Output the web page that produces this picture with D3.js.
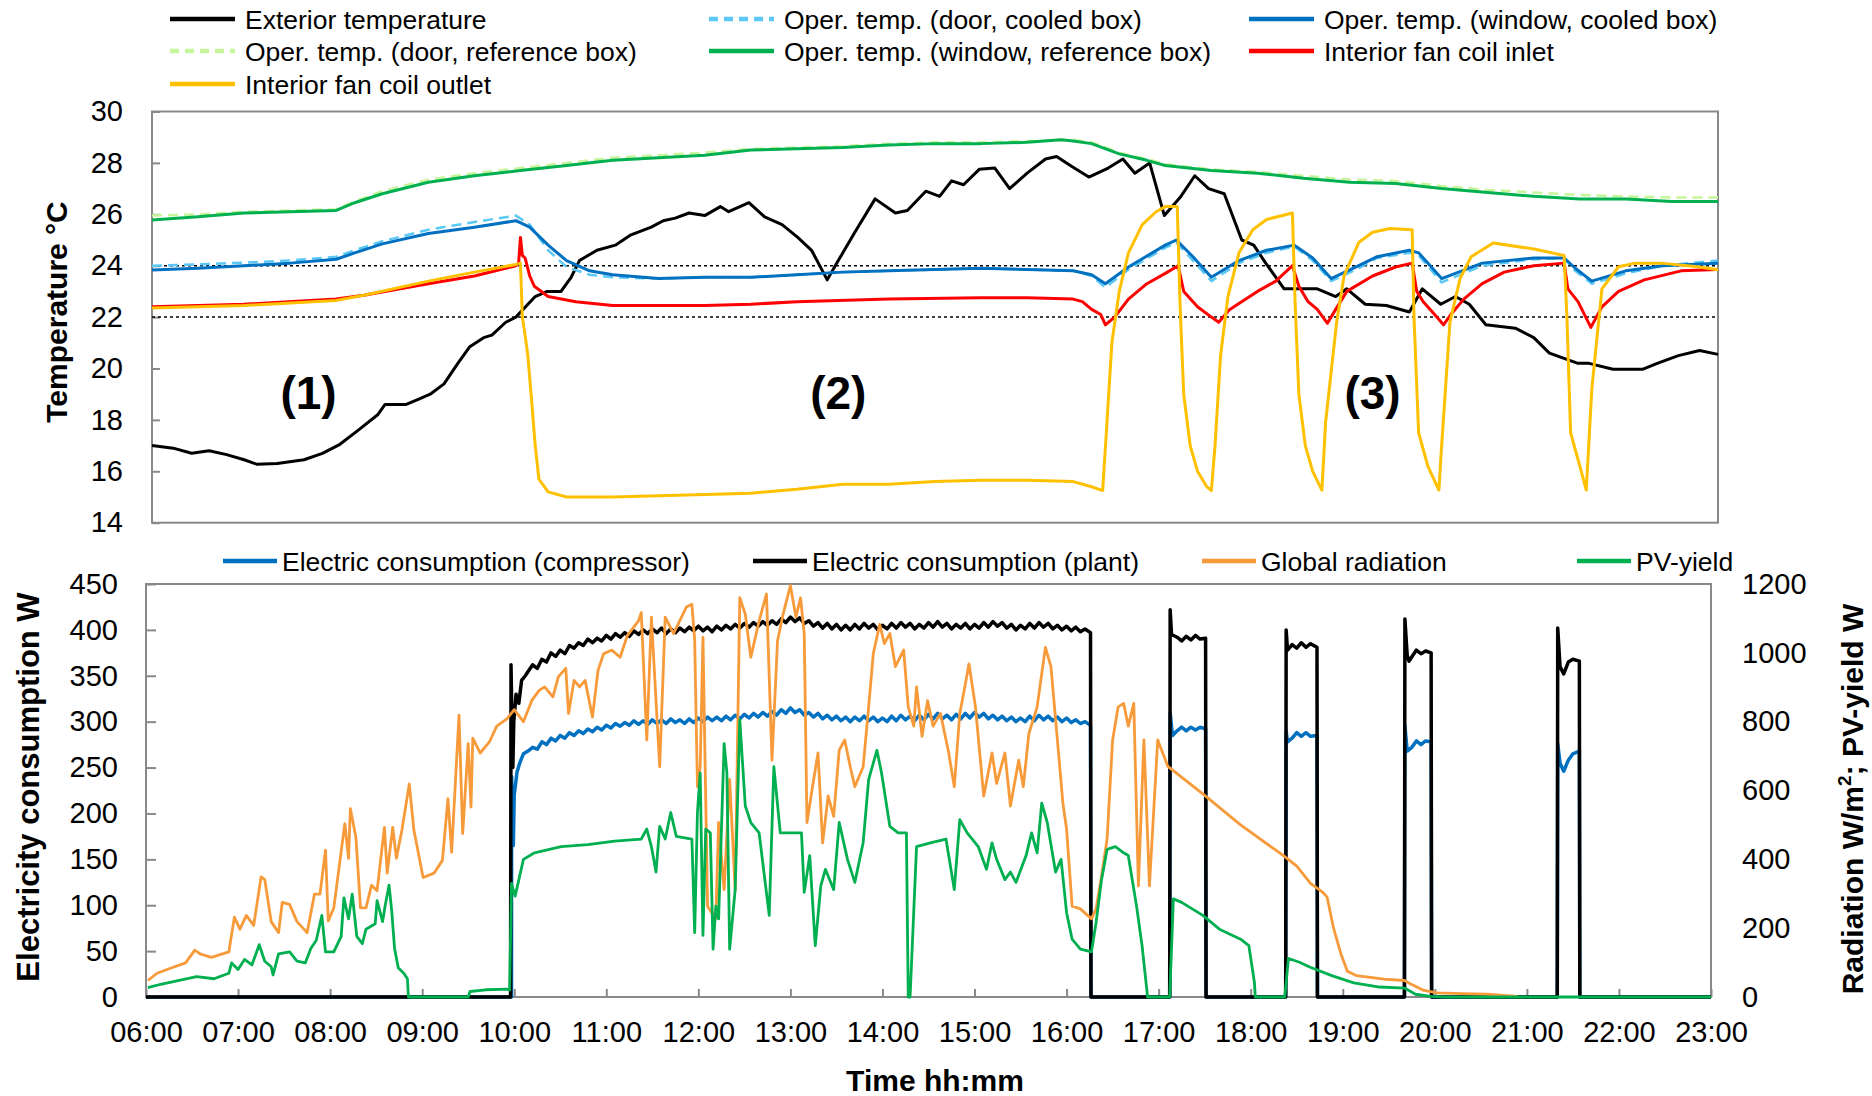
<!DOCTYPE html>
<html><head><meta charset="utf-8">
<script src="https://cdn.jsdelivr.net/npm/d3@7"></script>
<style>body{margin:0;background:#fff} svg{display:block} text{font-family:"Liberation Sans",Arial,sans-serif;fill:#000}</style>
</head><body><svg id="c" width="1872" height="1096"></svg>
<script>
// ---------- labels & ticks ----------
const hourLabels = ["06:00","07:00","08:00","09:00","10:00","11:00","12:00","13:00","14:00","15:00","16:00","17:00","18:00","19:00","20:00","21:00","22:00","23:00"];
const tempTicks = [14,16,18,20,22,24,26,28,30];
const powerTicks = [0,50,100,150,200,250,300,350,400,450];
const radTicks = [0,200,400,600,800,1000,1200];
const comfortLimits = [22,24];
const phaseLabels = [{t:7.7,label:"(1)"},{t:13.45,label:"(2)"},{t:19.25,label:"(3)"}];

// ---------- temperature series [hour, °C] ----------
const exteriorTemp = [[6.0,17.0],[6.23,16.9],[6.43,16.7],[6.62,16.8],[6.81,16.65],[7.0,16.45],[7.14,16.27],[7.36,16.3],[7.65,16.45],[7.85,16.7],[8.04,17.05],[8.24,17.6],[8.45,18.2],[8.53,18.6],[8.76,18.6],[8.89,18.8],[9.02,19.0],[9.17,19.4],[9.32,20.2],[9.45,20.85],[9.6,21.2],[9.69,21.3],[9.84,21.8],[9.95,22.0],[10.16,22.8],[10.29,23.0],[10.44,23.0],[10.55,23.55],[10.64,24.2],[10.83,24.6],[11.03,24.8],[11.2,25.2],[11.42,25.5],[11.55,25.75],[11.68,25.85],[11.83,26.05],[12.0,25.95],[12.17,26.3],[12.26,26.1],[12.48,26.45],[12.65,25.9],[12.84,25.6],[13.01,25.1],[13.16,24.6],[13.33,23.45],[13.45,24.2],[13.63,25.3],[13.85,26.6],[14.07,26.05],[14.2,26.15],[14.4,26.9],[14.55,26.7],[14.68,27.3],[14.81,27.15],[14.98,27.75],[15.15,27.8],[15.31,27.0],[15.5,27.6],[15.7,28.15],[15.82,28.25],[15.99,27.85],[16.17,27.45],[16.38,27.8],[16.54,28.15],[16.67,27.6],[16.83,28.0],[16.99,25.95],[17.16,26.65],[17.32,27.5],[17.47,27.0],[17.64,26.8],[17.83,25.0],[17.96,24.8],[18.09,24.1],[18.29,23.1],[18.48,23.1],[18.65,23.1],[18.85,22.8],[18.97,23.1],[19.17,22.5],[19.4,22.45],[19.65,22.2],[19.79,23.1],[19.99,22.5],[20.15,22.8],[20.3,22.5],[20.48,21.7],[20.8,21.57],[21.0,21.2],[21.17,20.6],[21.48,20.2],[21.6,20.2],[21.86,19.97],[22.18,19.97],[22.34,20.2],[22.57,20.5],[22.8,20.7],[23.0,20.55]];
const opDoorCooled = [[6.0,24.0],[6.5,24.05],[7.0,24.12],[7.5,24.2],[8.0,24.35],[8.2,24.6],[8.5,24.95],[9.0,25.4],[9.5,25.7],[9.95,25.95],[10.1,25.6],[10.3,24.6],[10.5,23.95],[10.75,23.65],[11.0,23.55],[11.5,23.5],[12.0,23.55],[12.5,23.55],[13.0,23.65],[13.5,23.75],[14.0,23.8],[14.5,23.85],[15.0,23.9],[15.5,23.85],[16.0,23.8],[16.2,23.6],[16.35,23.15],[16.6,23.85],[17.0,24.7],[17.12,24.9],[17.3,24.2],[17.5,23.4],[17.8,24.1],[18.1,24.5],[18.4,24.75],[18.6,24.2],[18.8,23.4],[19.1,23.9],[19.3,24.3],[19.65,24.5],[19.75,24.4],[20.0,23.35],[20.44,24.0],[21.0,24.25],[21.33,24.3],[21.45,23.8],[21.63,23.3],[22.0,23.7],[22.4,24.0],[23.0,24.2]];
const opWindowCooled = [[6.0,23.83],[6.5,23.9],[7.0,24.0],[7.5,24.1],[8.0,24.25],[8.2,24.5],[8.5,24.85],[9.0,25.25],[9.5,25.5],[9.95,25.75],[10.1,25.5],[10.3,24.8],[10.5,24.2],[10.75,23.8],[11.0,23.65],[11.5,23.5],[12.0,23.55],[12.5,23.55],[13.0,23.65],[13.5,23.75],[14.0,23.8],[14.5,23.85],[15.0,23.9],[15.5,23.85],[16.0,23.8],[16.2,23.65],[16.35,23.3],[16.6,23.95],[17.0,24.8],[17.12,25.0],[17.3,24.35],[17.5,23.55],[17.8,24.2],[18.1,24.6],[18.4,24.8],[18.6,24.3],[18.8,23.5],[19.1,24.0],[19.3,24.35],[19.65,24.6],[19.75,24.5],[20.0,23.5],[20.44,24.1],[21.0,24.3],[21.33,24.3],[21.45,23.9],[21.63,23.4],[22.0,23.8],[22.4,24.0],[23.0,24.1]];
const opDoorRef = [[6.0,25.95],[6.5,26.0],[7.0,26.1],[7.5,26.15],[8.0,26.2],[8.2,26.5],[8.5,26.9],[9.0,27.35],[9.5,27.6],[10.0,27.8],[10.5,28.0],[11.0,28.2],[11.5,28.3],[12.0,28.4],[12.5,28.55],[13.0,28.6],[13.5,28.65],[14.0,28.75],[14.5,28.8],[15.0,28.8],[15.5,28.85],[16.0,28.9],[16.2,28.8],[16.5,28.4],[16.8,28.15],[17.0,27.95],[17.5,27.75],[18.0,27.65],[18.5,27.5],[19.0,27.35],[19.5,27.3],[20.0,27.1],[20.5,26.95],[21.0,26.85],[21.5,26.75],[22.0,26.7],[22.5,26.65],[23.0,26.65]];
const opWindowRef = [[6.0,25.78],[6.5,25.9],[7.0,26.05],[7.5,26.1],[8.0,26.15],[8.2,26.45],[8.5,26.8],[9.0,27.25],[9.5,27.5],[10.0,27.7],[10.5,27.9],[11.0,28.1],[11.5,28.2],[12.0,28.3],[12.5,28.5],[13.0,28.55],[13.5,28.6],[14.0,28.7],[14.5,28.75],[15.0,28.75],[15.5,28.8],[15.87,28.9],[16.0,28.85],[16.2,28.75],[16.5,28.35],[16.8,28.1],[17.0,27.9],[17.5,27.7],[18.0,27.6],[18.5,27.4],[19.0,27.25],[19.5,27.2],[20.0,27.0],[20.5,26.85],[21.0,26.7],[21.5,26.6],[22.0,26.6],[22.5,26.5],[23.0,26.5]];
const fanCoilInlet = [[6.0,22.4],[7.0,22.5],[8.0,22.7],[8.3,22.85],[9.0,23.3],[9.5,23.6],[9.95,24.0],[9.98,24.1],[10.0,25.1],[10.02,24.4],[10.05,24.3],[10.1,23.6],[10.15,23.2],[10.3,22.8],[10.6,22.6],[11.0,22.45],[12.0,22.45],[12.5,22.5],[13.0,22.6],[14.0,22.7],[15.0,22.75],[15.5,22.75],[16.0,22.7],[16.1,22.6],[16.2,22.3],[16.3,22.1],[16.35,21.7],[16.45,22.0],[16.6,22.7],[16.8,23.3],[17.0,23.7],[17.14,24.0],[17.2,23.0],[17.35,22.4],[17.5,22.0],[17.58,21.8],[17.7,22.3],[18.0,23.0],[18.2,23.4],[18.38,24.0],[18.45,23.2],[18.55,22.6],[18.65,22.3],[18.76,21.76],[18.85,22.3],[18.97,23.0],[19.25,23.6],[19.5,23.95],[19.68,24.1],[19.73,23.0],[19.8,22.6],[19.9,22.2],[20.02,21.7],[20.1,22.1],[20.24,22.7],[20.44,23.3],[20.68,23.75],[21.0,24.0],[21.33,24.1],[21.37,23.1],[21.48,22.6],[21.62,21.6],[21.74,22.4],[21.92,23.0],[22.2,23.45],[22.6,23.8],[23.0,23.85]];
const fanCoilOutlet = [[6.0,22.35],[7.0,22.45],[8.0,22.65],[8.3,22.85],[9.0,23.4],[9.5,23.75],[9.95,24.05],[10.0,24.1],[10.02,22.0],[10.05,21.3],[10.08,20.5],[10.12,18.8],[10.16,17.0],[10.2,15.7],[10.3,15.2],[10.5,15.0],[11.0,15.0],[11.5,15.05],[12.0,15.1],[12.5,15.15],[13.0,15.3],[13.5,15.5],[14.0,15.5],[14.5,15.6],[15.0,15.65],[15.5,15.65],[16.0,15.6],[16.2,15.4],[16.32,15.25],[16.36,17.5],[16.42,21.0],[16.5,23.0],[16.6,24.5],[16.75,25.6],[16.9,26.1],[17.0,26.3],[17.13,26.3],[17.16,22.5],[17.2,19.0],[17.27,17.0],[17.35,16.0],[17.45,15.4],[17.5,15.25],[17.54,17.0],[17.6,20.5],[17.68,22.8],[17.8,24.5],[17.95,25.4],[18.1,25.8],[18.38,26.05],[18.41,22.5],[18.45,19.0],[18.52,17.0],[18.6,16.0],[18.7,15.27],[18.74,17.9],[18.86,21.8],[18.94,23.6],[19.1,24.9],[19.25,25.3],[19.44,25.45],[19.68,25.4],[19.7,22.0],[19.75,17.5],[19.85,16.2],[19.97,15.27],[20.0,17.0],[20.09,21.8],[20.2,23.5],[20.32,24.35],[20.56,24.88],[21.0,24.65],[21.33,24.4],[21.36,22.0],[21.4,17.5],[21.5,16.2],[21.57,15.27],[21.63,19.2],[21.74,23.1],[21.92,23.96],[22.1,24.1],[22.38,24.1],[22.78,23.96],[23.0,23.84]];

// ---------- power / radiation series ----------
const compressorW = [[6,0],[9.97,0],[9.972,240],[9.98,200],[9.99,165],[10.0,220],[10.03,245],[10.06,255],[10.1,265],[10.15,268],[10.2,272],[10.25,270],[10.3,278],[10.35,275],[10.4,282],[10.45,279],[10.5,285],[10.55,282],[10.6,288],[10.65,285],[10.7,290],[10.75,287],[10.8,292],[10.85,289],[10.9,294],[10.95,291],[11.0,296],[11.05,293],[11.1,298],[11.15,295],[11.2,299],[11.25,296],[11.3,301],[11.35,297],[11.4,301],[11.45,297],[11.5,302],[11.55,298],[11.6,302],[11.65,298],[11.7,303],[11.75,299],[11.8,302],[11.85,298],[11.9,303],[11.95,299],[12.0,304],[12.05,300],[12.1,305],[12.15,301],[12.2,305],[12.25,301],[12.3,306],[12.35,302],[12.4,307],[12.45,303],[12.5,308],[12.55,304],[12.6,309],[12.65,305],[12.7,310],[12.75,306],[12.8,311],[12.85,307],[12.9,313],[12.95,309],[13.0,315],[13.05,310],[13.1,313],[13.15,307],[13.2,310],[13.25,305],[13.3,309],[13.35,303],[13.4,307],[13.45,302],[13.5,306],[13.55,301],[13.6,305],[13.65,300],[13.7,305],[13.75,301],[13.8,306],[13.85,301],[13.9,305],[13.95,300],[14.0,304],[14.05,300],[14.1,306],[14.15,301],[14.2,307],[14.25,302],[14.3,306],[14.35,301],[14.4,307],[14.45,302],[14.5,308],[14.55,303],[14.6,309],[14.65,303],[14.7,307],[14.75,302],[14.8,308],[14.85,303],[14.9,309],[14.95,304],[15.0,310],[15.05,305],[15.1,309],[15.15,303],[15.2,307],[15.25,302],[15.3,306],[15.35,301],[15.4,305],[15.45,300],[15.5,304],[15.55,300],[15.6,306],[15.65,301],[15.7,307],[15.75,302],[15.8,306],[15.85,301],[15.9,305],[15.95,300],[16.0,304],[16.05,299],[16.1,302],[16.15,298],[16.2,300],[16.26,296],[16.265,0],[17.12,0],[17.125,310],[17.15,285],[17.2,290],[17.25,294],[17.3,290],[17.35,294],[17.4,291],[17.45,294],[17.51,292],[17.515,0],[18.38,0],[18.385,290],[18.4,278],[18.45,282],[18.5,288],[18.55,284],[18.6,288],[18.65,284],[18.72,285],[18.725,0],[19.67,0],[19.675,295],[19.7,268],[19.75,272],[19.8,279],[19.85,275],[19.9,279],[19.96,278],[19.965,0],[21.33,0],[21.335,276],[21.36,255],[21.4,246],[21.45,258],[21.5,265],[21.57,268],[21.575,0],[23,0]];
const plantW = [[6,0],[9.96,0],[9.965,362],[9.975,300],[9.985,250],[9.995,300],[10.02,330],[10.05,320],[10.08,345],[10.12,350],[10.16,356],[10.2,362],[10.25,358],[10.3,368],[10.35,365],[10.4,375],[10.45,371],[10.5,378],[10.55,374],[10.6,383],[10.65,380],[10.7,386],[10.75,383],[10.8,390],[10.85,386],[10.9,391],[10.95,388],[11.0,394],[11.05,390],[11.1,396],[11.15,392],[11.2,397],[11.25,393],[11.3,399],[11.35,395],[11.4,400],[11.45,396],[11.5,401],[11.55,397],[11.6,402],[11.65,396],[11.7,401],[11.75,397],[11.8,402],[11.85,398],[11.9,403],[11.95,399],[12.0,404],[12.05,399],[12.1,403],[12.15,398],[12.2,404],[12.25,400],[12.3,405],[12.35,401],[12.4,406],[12.45,402],[12.5,407],[12.55,403],[12.6,408],[12.65,404],[12.7,409],[12.75,405],[12.8,410],[12.85,406],[12.9,412],[12.95,408],[13.0,414],[13.05,409],[13.1,413],[13.15,407],[13.2,410],[13.25,404],[13.3,408],[13.35,402],[13.4,407],[13.45,401],[13.5,406],[13.55,400],[13.6,405],[13.65,400],[13.7,406],[13.75,401],[13.8,407],[13.85,402],[13.9,406],[13.95,400],[14.0,405],[14.05,401],[14.1,407],[14.15,402],[14.2,408],[14.25,403],[14.3,407],[14.35,401],[14.4,406],[14.45,402],[14.5,408],[14.55,403],[14.6,409],[14.65,403],[14.7,407],[14.75,401],[14.8,406],[14.85,402],[14.9,407],[14.95,401],[15.0,406],[15.05,402],[15.1,408],[15.15,403],[15.2,409],[15.25,404],[15.3,408],[15.35,402],[15.4,406],[15.45,400],[15.5,405],[15.55,401],[15.6,407],[15.65,402],[15.7,408],[15.75,403],[15.8,407],[15.85,401],[15.9,405],[15.95,400],[16.0,404],[16.05,399],[16.1,403],[16.15,398],[16.2,401],[16.26,397],[16.265,0],[17.12,0],[17.125,422],[17.14,395],[17.2,392],[17.25,388],[17.3,393],[17.35,389],[17.4,394],[17.45,390],[17.51,391],[17.515,0],[18.38,0],[18.385,400],[18.4,378],[18.45,384],[18.5,380],[18.55,386],[18.6,381],[18.65,385],[18.72,381],[18.725,0],[19.67,0],[19.675,412],[19.7,372],[19.72,366],[19.76,372],[19.8,378],[19.85,374],[19.9,377],[19.96,375],[19.965,0],[21.33,0],[21.335,402],[21.36,360],[21.4,352],[21.45,365],[21.5,368],[21.57,366],[21.575,0],[23,0]];
const globalRadiation = [[6.02,48],[6.12,69],[6.28,85],[6.43,99],[6.53,136],[6.59,125],[6.71,115],[6.9,131],[6.96,232],[7.02,197],[7.09,237],[7.17,208],[7.25,349],[7.29,341],[7.36,219],[7.44,187],[7.48,275],[7.56,269],[7.64,219],[7.75,187],[7.83,299],[7.89,299],[7.95,427],[7.98,221],[8.04,259],[8.16,504],[8.2,403],[8.22,547],[8.28,464],[8.33,259],[8.39,259],[8.45,325],[8.51,309],[8.59,493],[8.62,360],[8.68,493],[8.72,403],[8.78,485],[8.86,619],[8.91,485],[9.01,347],[9.13,360],[9.22,397],[9.28,576],[9.32,421],[9.4,819],[9.44,475],[9.5,736],[9.53,552],[9.55,752],[9.63,709],[9.73,741],[9.81,787],[9.92,808],[10.0,835],[10.1,800],[10.19,861],[10.27,891],[10.33,901],[10.42,872],[10.48,931],[10.56,955],[10.59,824],[10.65,920],[10.71,901],[10.77,920],[10.85,813],[10.91,949],[10.97,997],[11.06,1008],[11.15,987],[11.23,1051],[11.35,1093],[11.38,1117],[11.44,747],[11.49,1104],[11.58,669],[11.64,1104],[11.73,1056],[11.87,1133],[11.93,1141],[11.96,1037],[11.99,611],[12.02,669],[12.05,1045],[12.1,264],[12.19,227],[12.22,507],[12.28,312],[12.34,632],[12.4,312],[12.45,1160],[12.51,1112],[12.57,987],[12.66,1093],[12.74,1171],[12.8,688],[12.86,1035],[12.92,1112],[13.0,1195],[13.06,1104],[13.11,1160],[13.15,1056],[13.18,507],[13.24,611],[13.3,709],[13.35,448],[13.41,584],[13.47,525],[13.53,717],[13.59,747],[13.65,669],[13.7,611],[13.79,669],[13.85,843],[13.9,997],[13.97,1083],[14.02,1027],[14.08,1056],[14.14,960],[14.23,1008],[14.28,843],[14.34,787],[14.37,901],[14.43,757],[14.49,861],[14.55,787],[14.63,824],[14.72,709],[14.78,611],[14.84,824],[14.9,909],[14.94,968],[15.01,843],[15.1,584],[15.19,709],[15.24,621],[15.33,709],[15.39,555],[15.48,688],[15.53,611],[15.59,765],[15.68,843],[15.77,1016],[15.83,960],[15.9,747],[15.96,563],[16.0,488],[16.06,264],[16.15,256],[16.27,227],[16.32,256],[16.38,352],[16.44,459],[16.5,747],[16.56,843],[16.62,853],[16.67,787],[16.73,853],[16.78,323],[16.84,747],[16.9,323],[16.99,747],[17.1,670],[17.48,590],[17.89,500],[18.36,410],[18.5,380],[18.65,330],[18.78,305],[18.83,290],[18.9,200],[18.98,125],[19.05,75],[19.15,62],[19.45,52],[19.67,48],[19.75,36],[19.87,20],[20.03,12],[20.3,10],[20.57,8],[20.9,2]];
const pvYield = [[6.02,27],[6.16,37],[6.36,48],[6.55,59],[6.74,53],[6.9,69],[6.93,99],[7.0,80],[7.07,109],[7.15,93],[7.23,152],[7.29,104],[7.36,88],[7.38,64],[7.44,125],[7.56,131],[7.64,104],[7.73,99],[7.79,141],[7.85,165],[7.91,237],[7.95,131],[8.04,131],[8.12,176],[8.15,288],[8.2,227],[8.24,299],[8.29,176],[8.35,155],[8.39,197],[8.49,213],[8.51,280],[8.57,219],[8.6,269],[8.64,325],[8.67,248],[8.7,141],[8.74,85],[8.8,69],[8.84,53],[8.85,0],[9.5,0],[9.52,16],[9.69,21],[9.92,23],[9.95,20],[9.97,330],[10.01,293],[10.1,400],[10.22,419],[10.51,437],[10.8,443],[11.09,453],[11.38,459],[11.44,488],[11.49,437],[11.54,363],[11.58,496],[11.64,459],[11.7,536],[11.76,467],[11.93,459],[11.96,187],[11.99,536],[12.02,651],[12.05,179],[12.08,488],[12.13,477],[12.16,139],[12.19,264],[12.22,227],[12.28,736],[12.31,651],[12.34,139],[12.4,312],[12.45,805],[12.51,555],[12.57,507],[12.66,477],[12.77,237],[12.82,669],[12.89,477],[13.0,477],[13.12,477],[13.15,304],[13.21,411],[13.27,149],[13.33,323],[13.38,371],[13.47,312],[13.53,507],[13.62,400],[13.7,333],[13.79,448],[13.85,632],[13.94,717],[13.99,651],[14.08,496],[14.17,477],[14.26,477],[14.28,0],[14.3,0],[14.37,437],[14.52,448],[14.69,459],[14.78,312],[14.84,515],[14.92,477],[15.04,437],[15.13,371],[15.19,448],[15.24,400],[15.33,341],[15.39,363],[15.45,333],[15.56,411],[15.62,477],[15.68,419],[15.73,563],[15.79,507],[15.88,363],[15.94,400],[16.0,245],[16.06,168],[16.15,139],[16.27,131],[16.32,216],[16.38,341],[16.44,429],[16.53,437],[16.62,419],[16.67,411],[16.76,264],[16.82,149],[16.88,0],[17.12,0],[17.16,285],[17.25,275],[17.48,237],[17.66,197],[17.89,168],[17.98,149],[18.04,43],[18.05,0],[18.37,0],[18.41,112],[18.53,101],[18.64,87],[18.88,62],[19.12,41],[19.4,29],[19.67,26],[19.79,8],[19.95,2],[20.11,0],[23.0,0]];

// ---------- drawing ----------
const svg = d3.select("#c");
svg.append("rect").attr("width",1872).attr("height",1096).attr("fill","#fff");
const FONT = '"Liberation Sans", Arial, sans-serif';
const GRAY = "#898989";

const xT = d3.scaleLinear([6,23],[152,1718]);
const yT = d3.scaleLinear([14,30],[522.7,111.5]);
const xB = d3.scaleLinear([6,23],[146,1711]);
const yB = d3.scaleLinear([0,450],[997,584]);
const yR = d3.scaleLinear([0,1200],[997,584]);

function styleAxis(g, size){
  g.select(".domain").remove();
  g.selectAll(".tick line").attr("stroke",GRAY).attr("stroke-width",2);
  g.selectAll(".tick text").attr("font-size",size).attr("font-family",FONT).attr("fill","#000");
}

// top axis
const gTL = svg.append("g").attr("transform",`translate(152,0)`)
  .call(d3.axisLeft(yT).tickValues(tempTicks).tickSize(-8).tickPadding(29).tickFormat(d3.format("d")));
styleAxis(gTL,29);
svg.append("rect").attr("x",152).attr("y",111.5).attr("width",1718-152).attr("height",522.7-111.5)
  .attr("fill","none").attr("stroke",GRAY).attr("stroke-width",2);

// comfort limit lines
svg.selectAll(".lim").data(comfortLimits).join("line")
  .attr("x1",152).attr("x2",1718).attr("y1",d=>yT(d)).attr("y2",d=>yT(d))
  .attr("stroke","#000").attr("stroke-width",1.5).attr("stroke-dasharray","3,3");

const lineT = d3.line().x(d=>xT(d[0])).y(d=>yT(d[1]));
const topSeries = [
  {data:exteriorTemp, color:"#000000", w:3, dash:null, label:"Exterior temperature"},
  {data:opDoorCooled, color:"#5BC8F5", w:2.5, dash:"10,6", label:"Oper. temp. (door, cooled box)"},
  {data:opWindowCooled, color:"#0070C0", w:3, dash:null, label:"Oper. temp. (window, cooled box)"},
  {data:opDoorRef, color:"#C6F59C", w:2.5, dash:"10,6", label:"Oper. temp. (door, reference box)"},
  {data:opWindowRef, color:"#00B050", w:3, dash:null, label:"Oper. temp. (window, reference box)"},
  {data:fanCoilInlet, color:"#FF0000", w:3, dash:null, label:"Interior fan coil inlet"},
  {data:fanCoilOutlet, color:"#FFC000", w:3, dash:null, label:"Interior fan coil outlet"}
];
topSeries.forEach(s=>{
  svg.append("path").attr("d",lineT(s.data)).attr("fill","none").attr("stroke",s.color)
    .attr("stroke-width",s.w).attr("stroke-linejoin","round").attr("stroke-dasharray",s.dash);
});

// phase labels
svg.selectAll(".phase").data(phaseLabels).join("text")
  .attr("x",d=>xT(d.t)).attr("y",409).attr("text-anchor","middle")
  .attr("font-size",46).attr("font-weight","bold").attr("font-family",FONT).text(d=>d.label);

// top legend
const legTopPos = [[170,19],[709,19],[1249,19],[170,51],[709,51],[1249,51],[170,84]];
topSeries.forEach((s,i)=>{
  const [lx,ly] = legTopPos[i];
  svg.append("line").attr("x1",lx).attr("x2",lx+65).attr("y1",ly).attr("y2",ly)
    .attr("stroke",s.color).attr("stroke-width",4.5).attr("stroke-dasharray",s.dash ? "9,6" : null);
  svg.append("text").attr("x",lx+75).attr("y",ly).attr("dy","0.36em").attr("font-size",26.5)
    .attr("font-family",FONT).text(s.label);
});

// top y title
svg.append("text").attr("transform","translate(67,312) rotate(-90)").attr("text-anchor","middle")
  .attr("font-size",30).attr("font-weight","bold").attr("font-family",FONT).text("Temperature °C");

// bottom axes
const gBL = svg.append("g").attr("transform","translate(146,0)")
  .call(d3.axisLeft(yB).tickValues(powerTicks).tickSize(-10).tickPadding(28).tickFormat(d3.format("d")));
styleAxis(gBL,29);
const gBR = svg.append("g").attr("transform","translate(1711,0)")
  .call(d3.axisRight(yR).tickValues(radTicks).tickSize(0).tickPadding(31).tickFormat(d3.format("d")));
styleAxis(gBR,29);
const gBX = svg.append("g").attr("transform","translate(0,997)")
  .call(d3.axisBottom(xB).tickValues(d3.range(6,24)).tickFormat(d=>hourLabels[d-6]).tickSize(-8).tickPadding(24));
styleAxis(gBX,29);
svg.append("rect").attr("x",146).attr("y",584).attr("width",1711-146).attr("height",997-584)
  .attr("fill","none").attr("stroke",GRAY).attr("stroke-width",2);

const lineB = d3.line().x(d=>xB(d[0])).y(d=>yB(d[1]));
const lineR = d3.line().x(d=>xB(d[0])).y(d=>yR(d[1]));
svg.append("path").attr("d",lineB(compressorW)).attr("fill","none").attr("stroke","#0070C0").attr("stroke-width",3.5).attr("stroke-linejoin","round");
svg.append("path").attr("d",lineB(plantW)).attr("fill","none").attr("stroke","#000").attr("stroke-width",3.5).attr("stroke-linejoin","round");
svg.append("path").attr("d",lineR(globalRadiation)).attr("fill","none").attr("stroke","#F79A3A").attr("stroke-width",2.8).attr("stroke-linejoin","round");
svg.append("path").attr("d",lineR(pvYield)).attr("fill","none").attr("stroke","#00B050").attr("stroke-width",2.8).attr("stroke-linejoin","round");

// bottom legend
const botLegend = [
  {x:223, color:"#0070C0", label:"Electric consumption (compressor)"},
  {x:753, color:"#000000", label:"Electric consumption (plant)"},
  {x:1202, color:"#F79A3A", label:"Global radiation"},
  {x:1577, color:"#00B050", label:"PV-yield"}
];
botLegend.forEach(l=>{
  svg.append("line").attr("x1",l.x).attr("x2",l.x+54).attr("y1",561).attr("y2",561)
    .attr("stroke",l.color).attr("stroke-width",4.5);
  svg.append("text").attr("x",l.x+59).attr("y",561).attr("dy","0.36em").attr("font-size",26.5)
    .attr("font-family",FONT).text(l.label);
});

// bottom titles
svg.append("text").attr("transform","translate(39,787) rotate(-90)").attr("text-anchor","middle")
  .attr("font-size",31).attr("font-weight","bold").attr("font-family",FONT).text("Electricity consumption  W");
const rt = svg.append("text").attr("transform","translate(1863,799) rotate(-90)").attr("text-anchor","middle")
  .attr("font-size",30).attr("font-weight","bold").attr("font-family",FONT);
rt.append("tspan").text("Radiation W/m");
rt.append("tspan").attr("font-size",19).attr("dy",-12).text("2");
rt.append("tspan").attr("dy",12).text(";  PV-yield W");
svg.append("text").attr("x",935).attr("y",1091).attr("text-anchor","middle")
  .attr("font-size",30).attr("font-weight","bold").attr("font-family",FONT).text("Time hh:mm");
</script></body></html>
